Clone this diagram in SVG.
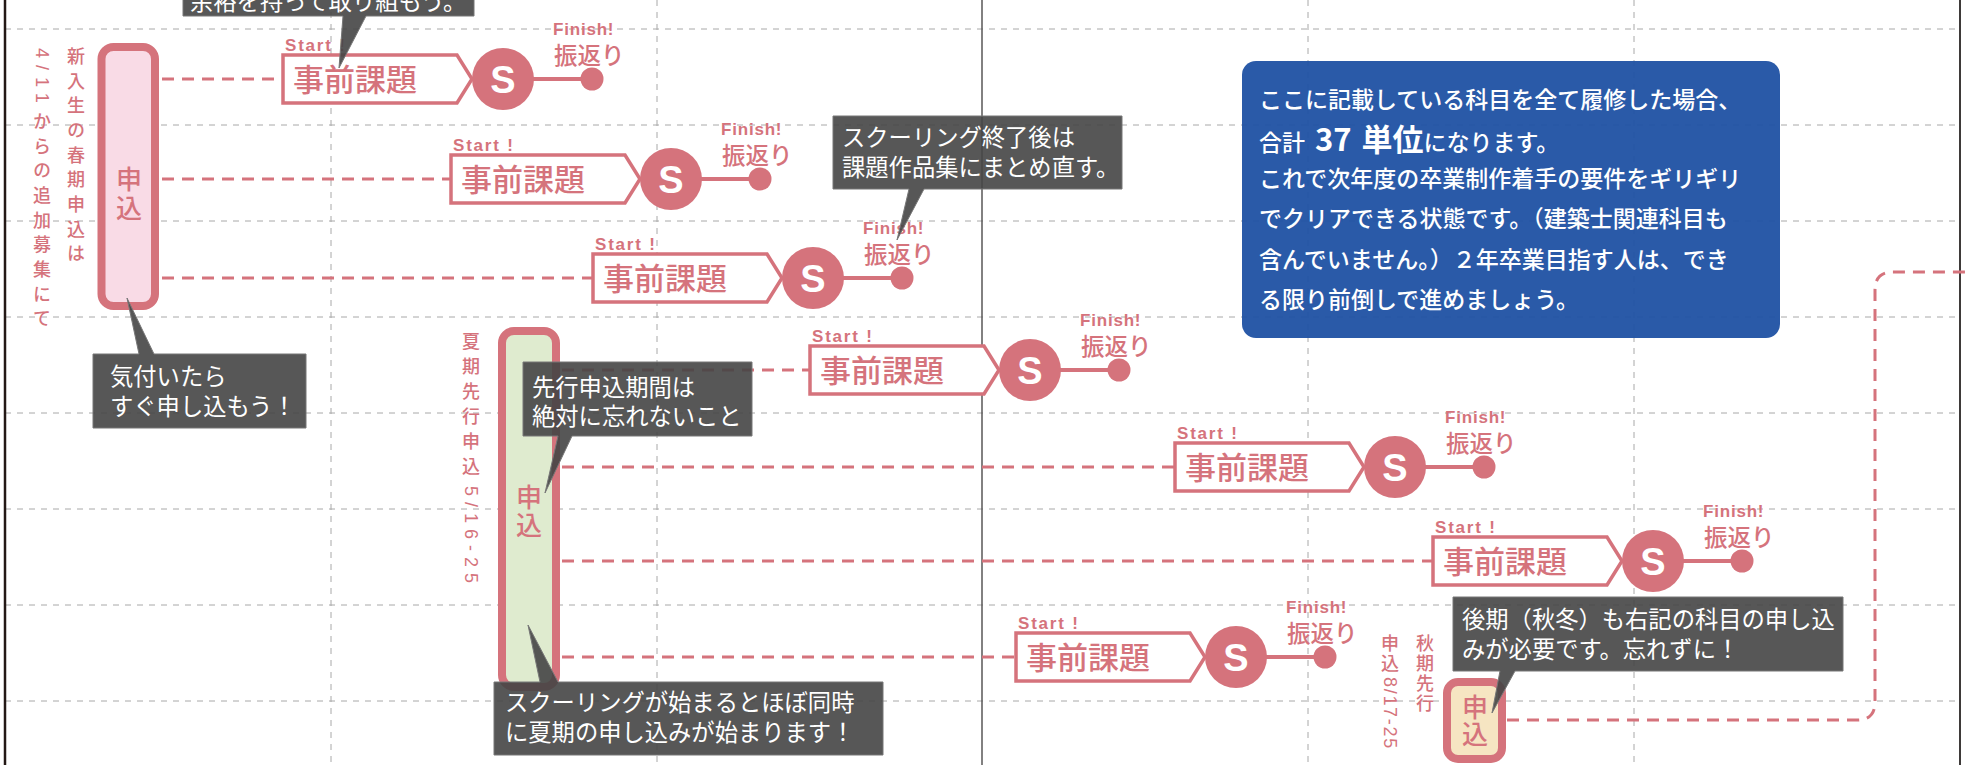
<svg xmlns="http://www.w3.org/2000/svg" width="1970" height="765" viewBox="0 0 1970 765">
<style>
.grid{stroke:#a8a8a8;stroke-width:1;stroke-dasharray:6 6;fill:none}
.conn{stroke:#d5737c;stroke-width:3;stroke-dasharray:12 8;fill:none}
.jp{font-family:"Noto Sans CJK JP","Noto Sans CJK SC",sans-serif}
.lat{font-family:"Liberation Sans",Arial,sans-serif;font-weight:bold}
.pink{fill:#d5737c}
.box{fill:#fff;stroke:#d5737c;stroke-width:3.5}
.task{font-size:31px;font-weight:500}
.s{font-size:38px;fill:#fff}
.start{font-size:17px;letter-spacing:1.8px}
.fin{font-size:17px;letter-spacing:0.8px}
.furi{font-size:23.5px;font-weight:500}
.bar{stroke:#d5737c;stroke-width:8}
.barlabel{writing-mode:vertical-rl;font-size:26px;font-weight:500}
.vert{writing-mode:vertical-rl;font-size:18px;font-weight:500}
.rot{font-family:"Liberation Sans",Arial,sans-serif;font-size:18px;dominant-baseline:central}
.call{fill:#454545;fill-opacity:0.9;stroke:#777;stroke-width:1}
.calltxt{fill:#fff;font-size:23.3px}
.bluetxt{fill:#fff;font-size:23px;font-weight:500}
</style>

<rect width="1970" height="765" fill="#fff"/>

<g id="grid">
  <path class="grid" d="M5 29H1960M5 125H1960M5 221H1960M5 317H1960M5 413H1960M5 509H1960M5 605H1960M5 701H1960"/>
  <path class="grid" d="M331 0V765M657 0V765M1308 0V765M1634 0V765"/>
  <line x1="5" y1="0" x2="5" y2="765" stroke="#231815" stroke-width="2.5"/>
  <line x1="982" y1="0" x2="982" y2="765" stroke="#595757" stroke-width="1.5"/>
  <line x1="1960" y1="0" x2="1960" y2="765" stroke="#3e3a39" stroke-width="2"/>
</g>

<g id="connectors">
  <path class="conn" d="M162 79H283"/>
  <path class="conn" d="M162 179H451"/>
  <path class="conn" d="M162 278H593"/>
  <path class="conn" d="M562 370H810"/>
  <path class="conn" d="M562 467H1175"/>
  <path class="conn" d="M562 561H1433"/>
  <path class="conn" d="M562 657H1016"/>
  <path class="conn" d="M1507 720H1857Q1875 720 1875 702V290Q1875 272 1893 272H1970"/>
</g>

<g id="spring-apply">
  <rect class="bar" x="101.5" y="47" width="53.5" height="259" rx="12" fill="#f9dbe6"/>
  <text class="jp pink barlabel" x="129" y="166" letter-spacing="3">申込</text>
  <text class="jp pink vert" x="76" y="47" letter-spacing="6.7">新入生の春期申込は</text>
  <text class="rot pink" transform="translate(42,48) rotate(90)" letter-spacing="7">4/11</text>
  <text class="jp pink vert" x="42" y="112" letter-spacing="6.7">からの追加募集にて</text>
</g>

<g id="summer-apply">
  <rect class="bar" x="502" y="331" width="54" height="356" rx="12" fill="#dfebcf"/>
  <text class="jp pink barlabel" x="529" y="484" font-size="27" letter-spacing="2">申込</text>
  <text class="jp pink vert" x="471" y="332" letter-spacing="7">夏期先行申込</text>
  <text class="rot pink" transform="translate(471,486) rotate(90)" letter-spacing="6">5/16-25</text>
</g>

<g id="autumn-apply">
  <rect class="bar" x="1447" y="682" width="55" height="77" rx="11" fill="#f6e5c2"/>
  <text class="jp pink barlabel" x="1475" y="694" font-size="27" letter-spacing="1">申込</text>
  <text class="jp pink vert" x="1425" y="634" letter-spacing="2">秋期先行</text>
  <text class="jp pink vert" x="1390" y="634" letter-spacing="2">申込</text>
  <text class="rot pink" transform="translate(1390,677) rotate(90)" letter-spacing="1.7">8/17-25</text>
</g>

<g id="task1" transform="translate(283,79)">
  <polygon class="box" points="0,-24 174,-24 189,0 174,24 0,24"/>
  <text class="jp pink task" x="10" y="12">事前課題</text>
  <line x1="245" y1="0" x2="309" y2="0" stroke="#d5737c" stroke-width="4"/>
  <circle class="pink" cx="220" cy="0" r="31"/>
  <circle class="pink" cx="309" cy="0" r="11.5"/>
  <text class="lat s" x="220" y="13.5" text-anchor="middle">S</text>
  <text class="lat pink start" x="2" y="-28">Start !</text>
  <text class="lat pink fin" x="270" y="-44">Finish!</text>
  <text class="jp pink furi" x="271" y="-15">振返り</text>
</g>

<g id="task2" transform="translate(451,179)">
  <polygon class="box" points="0,-24 174,-24 189,0 174,24 0,24"/>
  <text class="jp pink task" x="10" y="12">事前課題</text>
  <line x1="245" y1="0" x2="309" y2="0" stroke="#d5737c" stroke-width="4"/>
  <circle class="pink" cx="220" cy="0" r="31"/>
  <circle class="pink" cx="309" cy="0" r="11.5"/>
  <text class="lat s" x="220" y="13.5" text-anchor="middle">S</text>
  <text class="lat pink start" x="2" y="-28">Start !</text>
  <text class="lat pink fin" x="270" y="-44">Finish!</text>
  <text class="jp pink furi" x="271" y="-15">振返り</text>
</g>

<g id="task3" transform="translate(593,278)">
  <polygon class="box" points="0,-24 174,-24 189,0 174,24 0,24"/>
  <text class="jp pink task" x="10" y="12">事前課題</text>
  <line x1="245" y1="0" x2="309" y2="0" stroke="#d5737c" stroke-width="4"/>
  <circle class="pink" cx="220" cy="0" r="31"/>
  <circle class="pink" cx="309" cy="0" r="11.5"/>
  <text class="lat s" x="220" y="13.5" text-anchor="middle">S</text>
  <text class="lat pink start" x="2" y="-28">Start !</text>
  <text class="lat pink fin" x="270" y="-44">Finish!</text>
  <text class="jp pink furi" x="271" y="-15">振返り</text>
</g>

<g id="task4" transform="translate(810,370)">
  <polygon class="box" points="0,-24 174,-24 189,0 174,24 0,24"/>
  <text class="jp pink task" x="10" y="12">事前課題</text>
  <line x1="245" y1="0" x2="309" y2="0" stroke="#d5737c" stroke-width="4"/>
  <circle class="pink" cx="220" cy="0" r="31"/>
  <circle class="pink" cx="309" cy="0" r="11.5"/>
  <text class="lat s" x="220" y="13.5" text-anchor="middle">S</text>
  <text class="lat pink start" x="2" y="-28">Start !</text>
  <text class="lat pink fin" x="270" y="-44">Finish!</text>
  <text class="jp pink furi" x="271" y="-15">振返り</text>
</g>

<g id="task5" transform="translate(1175,467)">
  <polygon class="box" points="0,-24 174,-24 189,0 174,24 0,24"/>
  <text class="jp pink task" x="10" y="12">事前課題</text>
  <line x1="245" y1="0" x2="309" y2="0" stroke="#d5737c" stroke-width="4"/>
  <circle class="pink" cx="220" cy="0" r="31"/>
  <circle class="pink" cx="309" cy="0" r="11.5"/>
  <text class="lat s" x="220" y="13.5" text-anchor="middle">S</text>
  <text class="lat pink start" x="2" y="-28">Start !</text>
  <text class="lat pink fin" x="270" y="-44">Finish!</text>
  <text class="jp pink furi" x="271" y="-15">振返り</text>
</g>

<g id="task6" transform="translate(1433,561)">
  <polygon class="box" points="0,-24 174,-24 189,0 174,24 0,24"/>
  <text class="jp pink task" x="10" y="12">事前課題</text>
  <line x1="245" y1="0" x2="309" y2="0" stroke="#d5737c" stroke-width="4"/>
  <circle class="pink" cx="220" cy="0" r="31"/>
  <circle class="pink" cx="309" cy="0" r="11.5"/>
  <text class="lat s" x="220" y="13.5" text-anchor="middle">S</text>
  <text class="lat pink start" x="2" y="-28">Start !</text>
  <text class="lat pink fin" x="270" y="-44">Finish!</text>
  <text class="jp pink furi" x="271" y="-15">振返り</text>
</g>

<g id="task7" transform="translate(1016,657)">
  <polygon class="box" points="0,-24 174,-24 189,0 174,24 0,24"/>
  <text class="jp pink task" x="10" y="12">事前課題</text>
  <line x1="245" y1="0" x2="309" y2="0" stroke="#d5737c" stroke-width="4"/>
  <circle class="pink" cx="220" cy="0" r="31"/>
  <circle class="pink" cx="309" cy="0" r="11.5"/>
  <text class="lat s" x="220" y="13.5" text-anchor="middle">S</text>
  <text class="lat pink start" x="2" y="-28">Start !</text>
  <text class="lat pink fin" x="270" y="-44">Finish!</text>
  <text class="jp pink furi" x="271" y="-15">振返り</text>
</g>

<g id="summary-note">
  <rect x="1242" y="61" width="538" height="277" rx="14" fill="#1f51a3" fill-opacity="0.95"/>
  <text class="jp bluetxt" x="1259" y="108">ここに記載している科目を全て履修した場合、<tspan x="1259" y="151">合計</tspan><tspan dx="10" font-size="31" font-weight="bold">37</tspan><tspan dx="10" font-size="31" font-weight="bold">単位</tspan><tspan>になります。</tspan><tspan x="1259" y="187">これで次年度の卒業制作着手の要件をギリギリ</tspan><tspan x="1259" y="227">でクリアできる状態です。（建築士関連科目も</tspan><tspan x="1259" y="268">含んでいません。）２年卒業目指す人は、でき</tspan><tspan x="1259" y="308">る限り前倒しで進めましょう。</tspan></text>
</g>

<g id="callout-top">
  <path class="call" d="M183 -10H474V16H366L339 68L343 16H183Z"/>
  <text class="jp calltxt" x="190" y="10">余裕を持って取り組もう。</text>
</g>

<g id="callout-schooling-end">
  <path class="call" d="M833 116H1122V189H924L897 240L909 189H833Z"/>
  <text class="jp calltxt" x="842" y="145.5" font-size="22.7">スクーリング終了後は<tspan x="842" y="175.5">課題作品集にまとめ直す。</tspan></text>
</g>

<g id="callout-apply-now">
  <path class="call" d="M93 354H139L127 298L154 354H306V428H93Z"/>
  <text class="jp calltxt" x="110" y="385">気付いたら<tspan x="110" y="415">すぐ申し込もう！</tspan></text>
</g>

<g id="callout-early-period">
  <path class="call" d="M523 362H752V436H572L545 493L558 436H523Z"/>
  <text class="jp calltxt" x="532" y="396" font-size="23.7">先行申込期間は<tspan x="532" y="425">絶対に忘れないこと</tspan></text>
</g>

<g id="callout-summer-start">
  <path class="call" d="M494 682H540L528 625L558 682H883V755H494Z"/>
  <text class="jp calltxt" x="505" y="711" font-size="23.7">スクーリングが始まるとほぼ同時<tspan x="505" y="741">に夏期の申し込みが始まります！</tspan></text>
</g>

<g id="callout-autumn">
  <path class="call" d="M1453 597H1843V671H1515L1492 713L1500 671H1453Z"/>
  <text class="jp calltxt" x="1462" y="628" font-size="23.6">後期（秋冬）も右記の科目の申し込<tspan x="1462" y="658">みが必要です。忘れずに！</tspan></text>
</g>
</svg>
